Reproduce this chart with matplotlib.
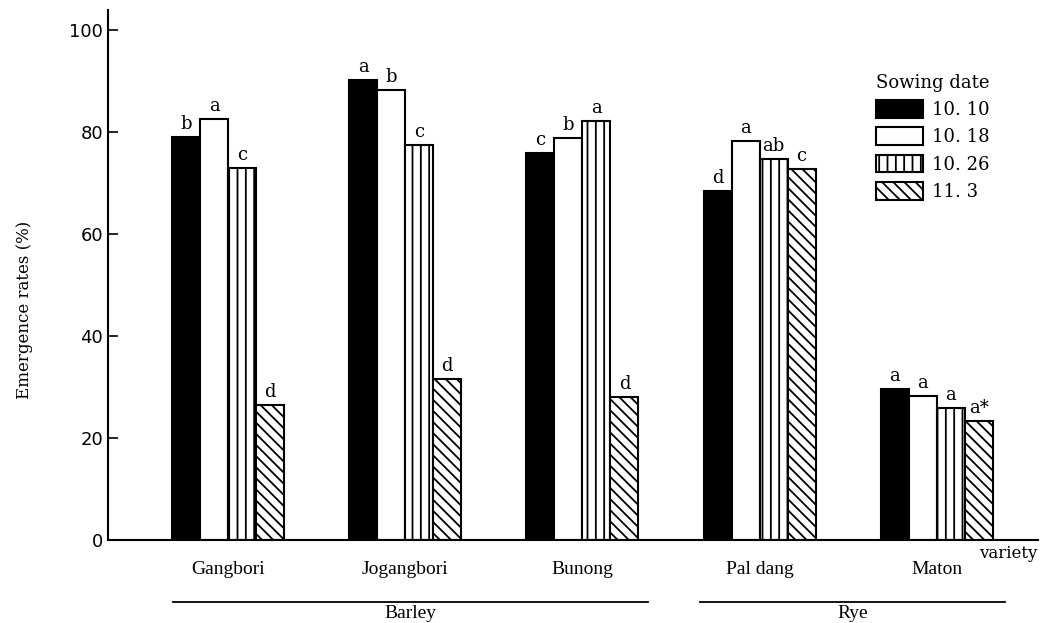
import numpy as np
import matplotlib
matplotlib.use("Agg")
import matplotlib.pyplot as plt
from matplotlib.patches import Patch
from matplotlib.lines import Line2D

# emergence rates (%) by variety and sowing date
varieties = ["Gangbori", "Jogangbori", "Bunong", "Pal dang", "Maton"]
dates = ["10. 10", "10. 18", "10. 26", "11. 3"]
d1010 = [79.0, 90.2, 75.9, 68.4, 29.6]
d1018 = [82.5, 88.2, 78.8, 78.2, 28.2]
d1026 = [72.9, 77.5, 82.2, 74.7, 25.9]
d1103 = [26.5, 31.6, 28.0, 72.7, 23.3]
letters = [["b", "a", "c", "d"],
           ["a", "b", "c", "d"],
           ["c", "b", "a", "d"],
           ["d", "a", "ab", "c"],
           ["a", "a", "a", "a*"]]

plt.rcParams['hatch.linewidth'] = 1.3
serif = ['DejaVu Serif']

fig = plt.figure(figsize=(10.47, 6.23), dpi=100)
ax = fig.add_axes([0.1032, 0.1332, 0.888, 0.8507])

x = np.arange(len(varieties))
w = 0.158
series = [d1010, d1018, d1026, d1103]
faces = ['black', 'white', 'white', 'white']
hatches = [None, None, '||', '\\\\\\']

for i, vals in enumerate(series):
    pos = x + (i - 1.5) * w
    ax.bar(pos, vals, width=w, color=faces[i], edgecolor='black',
           linewidth=1.5, hatch=hatches[i])
    for j, v in enumerate(vals):
        ax.text(pos[j], v + 0.8, letters[j][i], ha='center', va='bottom',
                fontsize=13, family=serif)

ax.set_xlim(-0.677, 4.57)
ax.set_ylim(0, 103.9)
ax.spines['top'].set_visible(False)
ax.spines['right'].set_visible(False)
ax.spines['left'].set_linewidth(1.5)
ax.spines['bottom'].set_linewidth(1.5)
ax.set_yticks([0, 20, 40, 60, 80, 100])
ax.tick_params(axis='y', direction='in', length=7, width=1.2, labelsize=13)
ax.set_xticks(x)
ax.set_xticklabels(varieties, fontsize=14, family=['Liberation Serif'])
ax.tick_params(axis='x', length=0, pad=15)

fig.text(25 / 1047, 1 - 310 / 623, "Emergence rates (%)", rotation=90,
         ha='center', va='center', fontsize=12, family=serif)
fig.text(1008 / 1047, 1 - 553 / 623, "variety", ha='center', va='center',
         fontsize=12, family=serif)

# group lines and crop names
for x0, x1, name in [(173, 648, "Barley"), (700, 1005, "Rye")]:
    fig.add_artist(Line2D([x0 / 1047, x1 / 1047], [1 - 602 / 623] * 2,
                          color='black', linewidth=1.3))
    fig.text((x0 + x1) / 2 / 1047, 1 - 614 / 623, name, ha='center',
             va='center', fontsize=14, family=['Liberation Serif'])

handles = [Patch(facecolor=faces[i], edgecolor='black', linewidth=1.5,
                 hatch=hatches[i]) for i in range(4)]
leg = ax.legend(handles, dates, title="Sowing date", loc='upper left',
                bbox_to_anchor=(876 / 1047, 1 - 74 / 623),
                bbox_transform=fig.transFigure, frameon=False,
                borderpad=0, borderaxespad=0, handlelength=2.6,
                handleheight=1.15, handletextpad=0.5, labelspacing=0.45,
                prop={'family': serif, 'size': 13},
                title_fontproperties={'family': serif, 'size': 13})

fig.savefig("out.png", dpi=100)
